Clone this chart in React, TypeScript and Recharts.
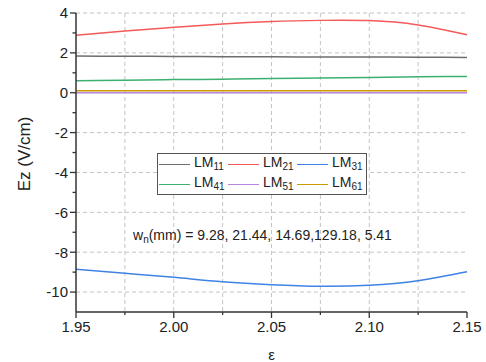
import React from 'react';
import { LineChart, Line, XAxis, YAxis, CartesianGrid } from 'recharts';

// ---- data ----
const epsilon = [1.95, 1.975, 2.0, 2.025, 2.05, 2.075, 2.1, 2.125, 2.15];
const lm11 = [1.84, 1.83, 1.82, 1.81, 1.8, 1.79, 1.79, 1.78, 1.77];
const lm21 = [2.88, 3.1, 3.28, 3.45, 3.57, 3.63, 3.62, 3.4, 2.91];
const lm31 = [-8.86, -9.06, -9.26, -9.48, -9.63, -9.71, -9.66, -9.43, -8.98];
const lm41 = [0.6, 0.63, 0.66, 0.68, 0.71, 0.74, 0.77, 0.8, 0.82];
const lm51 = [0.0, 0.0, 0.0, 0.0, 0.0, 0.0, 0.0, 0.0, 0.0];
const lm61 = [0.1, 0.1, 0.1, 0.1, 0.1, 0.1, 0.1, 0.1, 0.1];

const seriesKeys = ['LM11', 'LM21', 'LM31', 'LM41', 'LM51', 'LM61'];
const seriesSubs = ['11', '21', '31', '41', '51', '61'];
const seriesValues = [lm11, lm21, lm31, lm41, lm51, lm61];

const xTicks = [1.95, 1.975, 2.0, 2.025, 2.05, 2.075, 2.1, 2.125, 2.15];
const xMajor = [1.95, 2.0, 2.05, 2.1, 2.15];
const xGrid = [1.975, 2.0, 2.025, 2.05, 2.075, 2.1, 2.125];
const yTicks = [-10, -9, -8, -7, -6, -5, -4, -3, -2, -1, 0, 1, 2, 3, 4];
const yMajor = [-10, -8, -6, -4, -2, 0, 2, 4];
const annotation = ['9.28', '21.44', '14.69', '129.18', '5.41'];
const xTitle = 'ε';
const yTitle = 'Ez (V/cm)';

// ---- styles ----
const colors = ['#6e6e6e', '#f45a5a', '#3f82e6', '#3cb070', '#b985e0', '#cc9900'];
const FONT = '"Liberation Sans", Arial, sans-serif';
const AXIS = '#333333';

const table = epsilon.map((e, i) => {
  const row: Record<string, number> = { eps: e };
  seriesKeys.forEach((k, j) => {
    row[k] = seriesValues[j][i];
  });
  return row;
});

const isIn = (arr: number[], v: number) => arr.some((m) => Math.abs(m - v) < 1e-6);

const XTick = (props: any) => {
  const { x, y, payload } = props;
  const v = payload.value as number;
  const major = isIn(xMajor, v);
  const axisY = y - 10; // tickSize 6 + tickMargin 4
  return (
    <g>
      <line x1={x} x2={x} y1={axisY} y2={axisY + (major ? 6 : 3)} stroke={AXIS} strokeWidth={1.3} />
      {major && (
        <text x={x} y={axisY + 15} dy="0.36em" textAnchor="middle" fill="#222" fontSize={15} fontFamily={FONT}>
          {v.toFixed(2)}
        </text>
      )}
    </g>
  );
};

const YTick = (props: any) => {
  const { x, y, payload } = props;
  const v = payload.value as number;
  const major = isIn(yMajor, v);
  const axisX = x + 8; // tickSize 6 + tickMargin 2
  return (
    <g>
      <line x1={axisX} x2={axisX - (major ? 6 : 3.5)} y1={y} y2={y} stroke={AXIS} strokeWidth={1.3} />
      {major && (
        <text x={axisX - 8} y={y} dy="0.36em" textAnchor="end" fill="#222" fontSize={15} fontFamily={FONT}>
          {String(v)}
        </text>
      )}
    </g>
  );
};

const YTitle = () => (
  <text
    x={24}
    y={154}
    transform="rotate(-90 24 154)"
    textAnchor="middle"
    dy="0.36em"
    fill="#222"
    fontSize={17}
    fontFamily={FONT}
  >
    {yTitle}
  </text>
);

export default function App() {
  return (
    <div style={{ position: 'absolute', left: 0, top: 0, width: 486, height: 362, background: '#fff', fontFamily: FONT }}>
      <LineChart width={486} height={362} data={table} margin={{ top: 13, right: 19, bottom: 0, left: 0 }}>
        <CartesianGrid
          stroke="#c4c4c4"
          strokeDasharray="4 3"
          horizontalValues={yMajor}
          verticalValues={xGrid}
        />
        <XAxis
          dataKey="eps"
          type="number"
          domain={[1.95, 2.15]}
          ticks={xTicks}
          interval={0}
          height={50}
          tickSize={6}
          tickMargin={4}
          tickLine={{ stroke: 'none' }}
          tick={<XTick />}
          axisLine={{ stroke: AXIS, strokeWidth: 1.5 }}
          label={{ value: xTitle, position: 'insideBottom', offset: 2, fill: '#222', fontSize: 15, fontFamily: FONT }}
        />
        <YAxis
          type="number"
          domain={[-11, 4]}
          ticks={yTicks}
          interval={0}
          width={76}
          tickSize={6}
          tickMargin={2}
          tickLine={{ stroke: 'none' }}
          tick={<YTick />}
          axisLine={{ stroke: AXIS, strokeWidth: 1.5 }}
          label={{ value: yTitle, content: <YTitle /> }}
        />
        {seriesKeys.map((k, i) => (
          <Line
            key={k}
            type="natural"
            dataKey={k}
            stroke={colors[i]}
            strokeWidth={1.5}
            dot={false}
            isAnimationActive={false}
          />
        ))}
      </LineChart>

      {/* legend */}
      <div
        style={{
          position: 'absolute',
          left: 157,
          top: 153,
          width: 208,
          height: 40,
          border: '1px solid #555',
          background: '#fff',
          boxSizing: 'content-box',
        }}
      >
        {seriesKeys.map((k, i) => {
          const col = i % 3;
          const row = Math.floor(i / 3);
          return (
            <div
              key={k}
              style={{
                position: 'absolute',
                left: 1 + col * 69,
                top: 1 + row * 20,
                height: 18,
                display: 'flex',
                alignItems: 'center',
                fontSize: 14,
                color: '#222',
                whiteSpace: 'nowrap',
              }}
            >
              <span style={{ display: 'inline-block', width: 31, height: 0, borderTop: `1.5px solid ${colors[i]}` }} />
              <span style={{ marginLeft: 4, lineHeight: '18px' }}>
                LM<sub style={{ fontSize: 10, verticalAlign: '-3px' }}>{seriesSubs[i]}</sub>
              </span>
            </div>
          );
        })}
      </div>

      {/* annotation */}
      <div
        style={{
          position: 'absolute',
          left: 133,
          top: 226,
          fontSize: 14,
          color: '#222',
          whiteSpace: 'nowrap',
          lineHeight: '18px',
        }}
      >
        w<sub style={{ fontSize: 10, verticalAlign: '-3px' }}>n</sub>(mm) = {annotation.slice(0, 3).join(', ')},{annotation.slice(3).join(', ')}
      </div>
    </div>
  );
}
